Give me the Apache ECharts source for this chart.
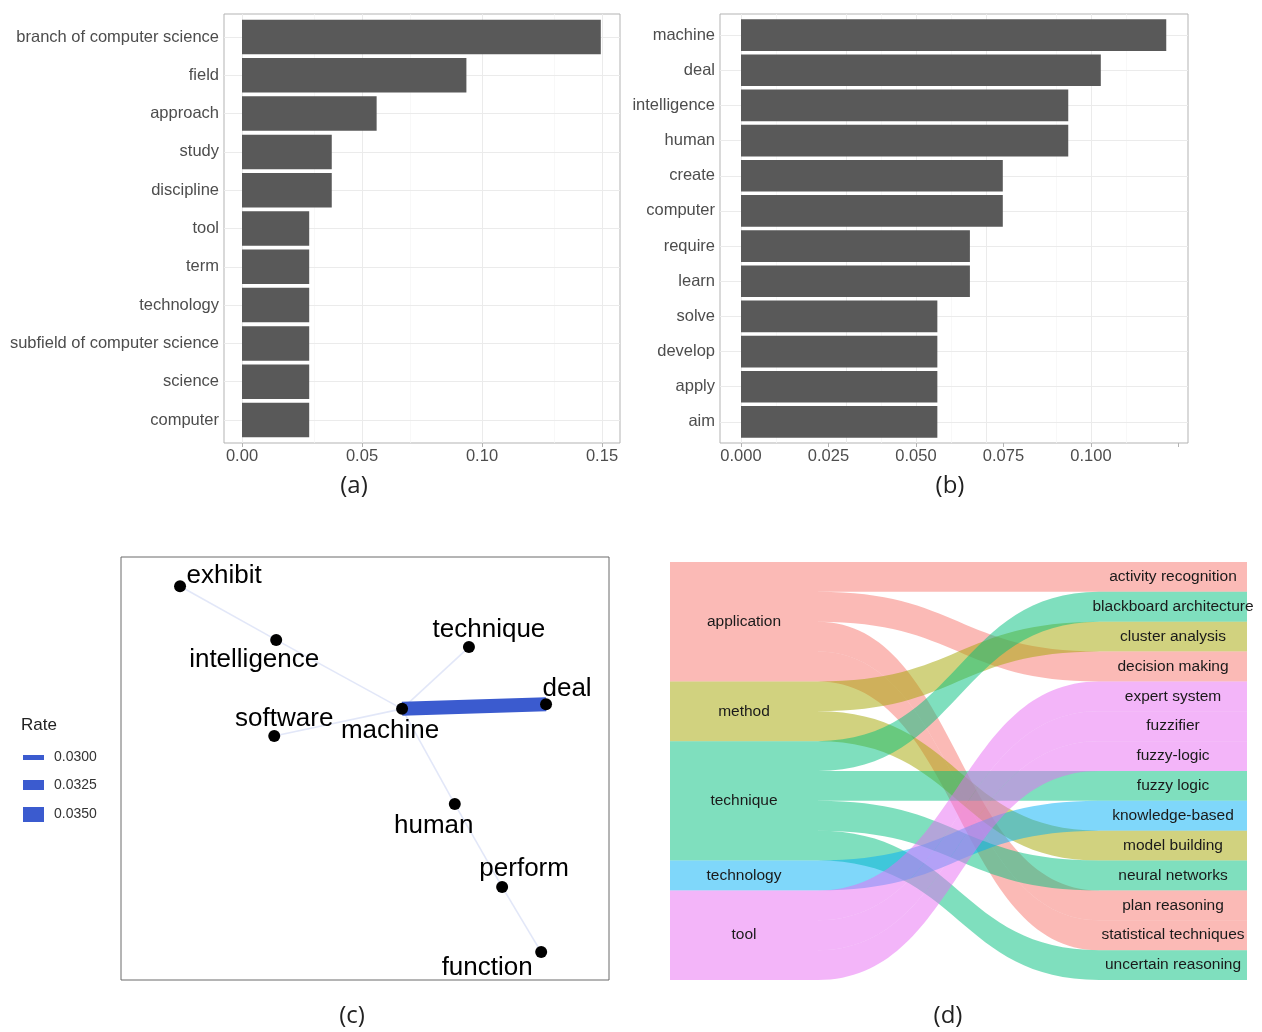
<!DOCTYPE html>
<html><head><meta charset="utf-8">
<script src="https://cdn.jsdelivr.net/npm/echarts@6/dist/echarts.min.js"></script>
<style>html,body{margin:0;padding:0;background:#fff}#c{width:1262px;height:1032px}</style>
</head><body><div id="c"></div>
<script>
// ---------- Panel (a) ----------
const catsA = ['branch of computer science','field','approach','study','discipline','tool','term','technology','subfield of computer science','science','computer'];
const valsA = [0.1495,0.0935,0.0561,0.0374,0.0374,0.0280,0.0280,0.0280,0.0280,0.0280,0.0280];
const ticksA = [0,0.05,0.10,0.15];
const minorA = [0.025,0.075,0.125];
// ---------- Panel (b) ----------
const catsB = ['machine','deal','intelligence','human','create','computer','require','learn','solve','develop','apply','aim'];
const valsB = [0.1215,0.1028,0.0935,0.0935,0.0748,0.0748,0.0654,0.0654,0.0561,0.0561,0.0561,0.0561];
const labelTicksB = [0,0.025,0.05,0.075,0.10];
const ticksB = [0,0.025,0.05,0.075,0.10,0.125];
const minorB = [0.0125,0.0375,0.0625,0.0875,0.1125];
// ---------- Panel (c) ----------
const netNodes = ['exhibit','intelligence','technique','deal','machine','software','human','perform','function'];
const netX = [1.21,3.18,7.13,8.71,5.76,3.14,6.84,7.81,8.61];
const netY = [9.31,8.04,7.87,6.52,6.41,5.77,4.16,2.20,0.66];
const netEdges = [['exhibit','intelligence'],['intelligence','machine'],['technique','machine'],['machine','deal'],['software','machine'],['machine','human'],['human','perform'],['perform','function']];
const netRates = [0.0283,0.0283,0.0283,0.0345,0.0283,0.0283,0.0283,0.0283];
const rateBreaks = [0.0300,0.0325,0.0350];
// ---------- Panel (d) ----------
const sources = ['application','method','technique','technology','tool'];
const targets = ['activity recognition','blackboard architecture','cluster analysis','decision making','expert system','fuzzifier','fuzzy-logic','fuzzy logic','knowledge-based','model building','neural networks','plan reasoning','statistical techniques','uncertain reasoning'];
const flowSrc = ['application','application','application','application','method','method','technique','technique','technique','technique','technology','tool','tool','tool'];
const flowTgt = ['activity recognition','decision making','plan reasoning','statistical techniques','cluster analysis','model building','blackboard architecture','fuzzy logic','neural networks','uncertain reasoning','knowledge-based','expert system','fuzzifier','fuzzy-logic'];
const flowVal = [1,1,1,1,1,1,1,1,1,1,1,1,1,1];

// ---------- styles ----------
const FONT = "'Liberation Sans', Arial, sans-serif";
const srcColors = {application:'#F8766D', method:'#A3A500', technique:'#00BF7D', technology:'#00B0F6', tool:'#E76BF3'};
const labelOffsets = {exhibit:[44,-10], intelligence:[-22,20], technique:[20,-17], deal:[21,-15], machine:[-12,22], software:[10,-17], human:[-21,22], perform:[22,-18], 'function':[-54,16]};
const EDGE = '#3b5bcf';
function rateWidth(r){ return Math.max(1.2, 5 + (r - 0.03) * 2000); }
function rateAlpha(r){ return Math.min(1, Math.max(0.1, 0.15 + (r - 0.0283) * 137)); }

function frameAxes(min, max){ return {min, max}; }
const bandA = 429 / (catsA.length + 0.2);
const bandB = 429 / (catsB.length + 0.2);

const gridLineMark = (major, minor) => ({
  silent: true, symbol: ['none','none'], label: {show:false}, z: 1, animation: false,
  lineStyle: {type:'solid'},
  data: major.map(v => ({xAxis: v, lineStyle:{color:'#ebebeb', width:1, type:'solid'}}))
    .concat(minor.map(v => ({xAxis: v, lineStyle:{color:'#f5f5f5', width:0.7, type:'solid'}})))
});
const catLineMark = cats => ({
  silent: true, symbol: ['none','none'], label: {show:false}, z: 1, animation: false,
  lineStyle: {type:'solid', color:'#ebebeb', width:1},
  data: cats.map(c => ({yAxis: c}))
});

const xLabel = (vals, digits) => ({show:true, customValues: vals, color:'#4d4d4d', fontSize:16.5, fontFamily:FONT, margin:5, formatter: v => Number(v).toFixed(digits)});
const xTick = vals => ({show:true, customValues: vals, length:4, lineStyle:{color:'#b3b3b3', width:1}});

const aMin = -0.0075, aMax = 0.1575;
const bMin = -0.006, bMax = -0.006 + 468/3500;

const sankeyNodes = sources.map(s => ({name:s, itemStyle:{color:srcColors[s], opacity:0.5}}))
  .concat(targets.map(t => { const s = flowSrc[flowTgt.indexOf(t)]; return {name:t, itemStyle:{color:srcColors[s], opacity:0.5}}; }));
const sankeyLinks = flowSrc.map((s,i) => ({source:s, target:flowTgt[i], value:flowVal[i], lineStyle:{color:srcColors[s], opacity:0.5}}));

const legendItems = [];
const legendY = [757.5, 785, 814.5];
rateBreaks.forEach((b,i) => {
  const h = rateWidth(b);
  legendItems.push({type:'rect', shape:{x:23, y:legendY[i]-h/2, width:21, height:h}, style:{fill:EDGE}});
  legendItems.push({type:'text', x:54, y:legendY[i], style:{text:b.toFixed(4), fill:'#333', font:'14px '+FONT, textVerticalAlign:'middle'}});
});
legendItems.push({type:'text', x:21, y:725, style:{text:'Rate', fill:'#222', font:'17px '+FONT, textVerticalAlign:'middle'}});
const captions = [['(a)',354,486],['(b)',950,486],['(c)',352,1016],['(d)',948,1016]].map(c => ({
  type:'text', x:c[1], y:c[2], style:{text:c[0], fill:'#222', font:"24px 'Open Sans', sans-serif", textAlign:'center', textVerticalAlign:'middle'}
}));

const option = {
  animation: false,
  backgroundColor: '#fff',
  grid: [
    {left:224, top:14, width:396, height:429, show:true, borderColor:'#b3b3b3', borderWidth:1, backgroundColor:'transparent'},
    {left:224, top:14 + 0.1*bandA, width:396, height:catsA.length*bandA},
    {left:720, top:14, width:468, height:429, show:true, borderColor:'#b3b3b3', borderWidth:1, backgroundColor:'transparent'},
    {left:720, top:14 + 0.1*bandB, width:468, height:catsB.length*bandB},
    {left:121, top:557, width:488, height:423, show:true, borderColor:'#6a6a6a', borderWidth:1, backgroundColor:'transparent'}
  ],
  xAxis: [
    {gridIndex:0, type:'value', min:aMin, max:aMax, axisLine:{show:false}, splitLine:{show:false}, axisTick:xTick(ticksA), axisLabel:xLabel(ticksA,2)},
    {gridIndex:1, type:'value', min:aMin, max:aMax, show:false},
    {gridIndex:2, type:'value', min:bMin, max:bMax, axisLine:{show:false}, splitLine:{show:false}, axisTick:xTick(ticksB), axisLabel:xLabel(labelTicksB,3)},
    {gridIndex:3, type:'value', min:bMin, max:bMax, show:false},
    {gridIndex:4, type:'value', min:0, max:10, show:false}
  ],
  yAxis: [
    {gridIndex:0, type:'value', min:0, max:1, show:false},
    {gridIndex:1, type:'category', data:catsA, inverse:true, axisLine:{show:false}, splitLine:{show:false},
      axisTick:{show:true, alignWithLabel:true, length:4, lineStyle:{color:'#b3b3b3'}},
      axisLabel:{color:'#4d4d4d', fontSize:16.5, fontFamily:FONT, margin:5}},
    {gridIndex:2, type:'value', min:0, max:1, show:false},
    {gridIndex:3, type:'category', data:catsB, inverse:true, axisLine:{show:false}, splitLine:{show:false},
      axisTick:{show:true, alignWithLabel:true, length:4, lineStyle:{color:'#b3b3b3'}},
      axisLabel:{color:'#4d4d4d', fontSize:16.5, fontFamily:FONT, margin:5}},
    {gridIndex:4, type:'value', min:0, max:10, show:false}
  ],
  series: [
    {type:'line', xAxisIndex:0, yAxisIndex:0, data:[], silent:true, markLine: gridLineMark(ticksA, minorA)},
    {type:'bar', xAxisIndex:1, yAxisIndex:1, data:valsA, barWidth:'90%', z:2, silent:true, itemStyle:{color:'#595959'}, markLine: catLineMark(catsA)},
    {type:'line', xAxisIndex:2, yAxisIndex:2, data:[], silent:true, markLine: gridLineMark(ticksB, minorB)},
    {type:'bar', xAxisIndex:3, yAxisIndex:3, data:valsB, barWidth:'90%', z:2, silent:true, itemStyle:{color:'#595959'}, markLine: catLineMark(catsB)},
    {type:'graph', coordinateSystem:'cartesian2d', xAxisIndex:4, yAxisIndex:4, layout:'none', silent:true,
      symbol:'circle', symbolSize:12, itemStyle:{color:'#000'},
      label:{show:true, position:'inside', formatter:'{b}', fontSize:26, color:'#000', fontFamily:FONT},
      lineStyle:{curveness:0},
      data: netNodes.map((n,i) => ({name:n, value:[netX[i], netY[i]], label:{offset:labelOffsets[n]}})),
      links: netEdges.map((e,i) => ({source:e[0], target:e[1], value:netRates[i],
        lineStyle:{width:rateWidth(netRates[i]), color:EDGE, opacity:rateAlpha(netRates[i])}}))
    },
    {type:'sankey', left:670, top:562, right:15, bottom:52, nodeWidth:148, nodeGap:0, layoutIterations:0,
      draggable:false, silent:true, emphasis:{disabled:true},
      itemStyle:{borderWidth:0},
      label:{position:'inside', fontSize:15.5, color:'#1a1a1a', fontFamily:FONT},
      lineStyle:{curveness:0.5},
      data: sankeyNodes, links: sankeyLinks}
  ],
  graphic: legendItems.concat(captions)
};
const chart = echarts.init(document.getElementById('c'), null, {renderer:'canvas'});
chart.setOption(option);
</script>
</body></html>
